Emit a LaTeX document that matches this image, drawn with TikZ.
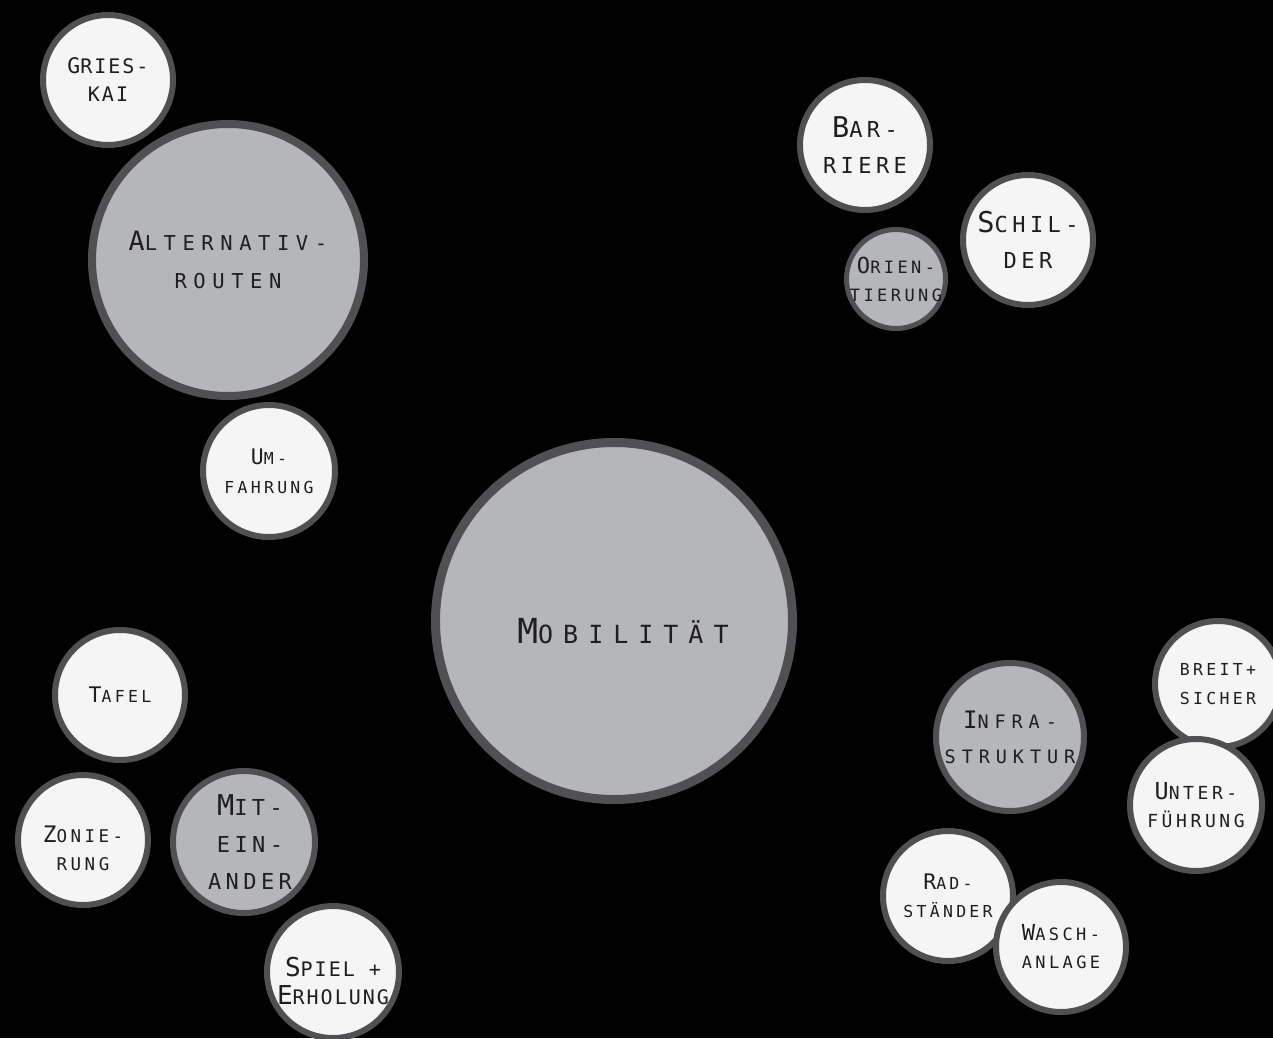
\documentclass[tikz,border=0pt]{standalone}
\usepackage{fontspec}
\newfontfamily\tightfont[LetterSpace=10]{DejaVu Sans Mono}
\newfontfamily\midfont[LetterSpace=20]{DejaVu Sans Mono}
\newfontfamily\widefont[LetterSpace=32]{DejaVu Sans Mono}
\newfontfamily\hugefont[LetterSpace=40]{DejaVu Sans Mono}
\usepackage{xcolor}

\definecolor{ring}{HTML}{505052}
\definecolor{paper}{HTML}{F5F5F5}
\definecolor{stone}{HTML}{B4B6B9}
\definecolor{ink}{HTML}{1E1E1E}

% first letter a bit larger: fake small caps
\makeatletter
\newcommand\kap[3][1.3]{{\fontsize{\fpeval{#1*\f@size}}{\f@baselineskip}\selectfont #2}#3}
\makeatother

\tikzset{
  disc/.style={circle, draw=ring, line width=6pt, inner sep=0pt},
  paperdisc/.style={disc, fill=paper},
  stonedisc/.style={disc, fill=stone},
  lbl/.style={text=ink, align=center, inner sep=0pt},
  tightlbl/.style 2 args={lbl, font=\tightfont\fontsize{#1}{#2}\selectfont},
  midlbl/.style 2 args={lbl, font=\midfont\fontsize{#1}{#2}\selectfont},
  widelbl/.style 2 args={lbl, font=\widefont\fontsize{#1}{#2}\selectfont},
  hugelbl/.style 2 args={lbl, font=\hugefont\fontsize{#1}{#2}\selectfont}
}

\begin{document}
\begin{tikzpicture}[x=1pt, y=-1pt]
  \fill[black] (0,0) rectangle (1273,1038);
  \useasboundingbox (0,0) rectangle (1273,1038);

  % centre
  \node[stonedisc, line width=9pt, minimum size=357pt] (mobil) at (614,621) {};
  \node[hugelbl={25}{34}, xshift=9pt, yshift=-10pt] (mobil-t) at (mobil) {\kap[1.38]{M}{OBILITÄT}};

  % upper left
  \node[paperdisc, minimum size=130pt] (grieskai) at (108,80) {};
  \node[stonedisc, line width=8pt, minimum size=272pt] (alternativ) at (228,260) {};
  \node[paperdisc, minimum size=132pt] (umfahrung) at (269,471) {};
  \node[tightlbl={20}{28}] (grieskai-t) at (grieskai) {\kap[1.07]{G}{RIES-}\\KAI};
  \node[widelbl={20.5}{38}] (alternativ-t) at (alternativ) {\kap{A}{LTERNATIV-}\\ROUTEN};
  \node[midlbl={16.5}{29}] (umfahrung-t) at (umfahrung) {\kap{U}{M-}\\FAHRUNG};

  % upper right
  \node[paperdisc, minimum size=130pt] (barriere) at (865,145) {};
  \node[paperdisc, minimum size=130pt] (schilder) at (1028,240) {};
  \node[stonedisc, line width=5pt, minimum size=99pt] (orientierung) at (896,279) {};
  \node[midlbl={22}{36}] (barriere-t) at (barriere) {\kap{B}{AR-}\\RIERE};
  \node[midlbl={22}{36}] (schilder-t) at (schilder) {\kap{S}{CHIL-}\\DER};
  \node[midlbl={17}{28}] (orientierung-t) at (orientierung) {\kap{O}{RIEN-}\\TIERUNG};

  % lower right
  \node[stonedisc, minimum size=148pt] (infra) at (1010,737) {};
  \node[paperdisc, minimum size=126pt] (breit) at (1218,684) {};
  \node[paperdisc, minimum size=132pt] (unterf) at (1196,805) {};
  \node[paperdisc, minimum size=130pt] (radst) at (948,896) {};
  \node[paperdisc, minimum size=130pt] (wasch) at (1061,947) {};
  \node[widelbl={18.5}{35}] (infra-t) at (infra) {\kap{I}{NFRA-}\\STRUKTUR};
  \node[midlbl={16.5}{29}] (breit-t) at (breit) {BREIT+\\SICHER};
  \node[midlbl={18}{28}] (unterf-t) at (unterf) {\kap{U}{NTER-}\\FÜHRUNG};
  \node[midlbl={16.5}{28}] (radst-t) at (radst) {\kap{R}{AD-}\\STÄNDER};
  \node[midlbl={17}{28}] (wasch-t) at (wasch) {\kap{W}{ASCH-}\\ANLAGE};

  % lower left
  \node[paperdisc, minimum size=130pt] (tafel) at (120,695) {};
  \node[paperdisc, minimum size=130pt] (zonierung) at (83,840) {};
  \node[stonedisc, minimum size=142pt] (miteinander) at (244,842) {};
  \node[paperdisc, minimum size=132pt] (spiel) at (333,972) {};
  \node[midlbl={16.5}{28}] (tafel-t) at (tafel) {\kap{T}{AFEL}};
  \node[midlbl={17.5}{28}, yshift=-8pt] (zonierung-t) at (zonierung) {\kap{Z}{ONIE-}\\RUNG};
  \node[midlbl={22}{37}, xshift=6pt] (miteinander-t) at (miteinander) {\kap{M}{IT-}\\EIN-\\ANDER};
  \node[tightlbl={20}{28}, yshift=-9pt] (spiel-t) at (spiel) {\kap{S}{PIEL +}\\\kap{E}{RHOLUNG}};
\end{tikzpicture}
\end{document}
